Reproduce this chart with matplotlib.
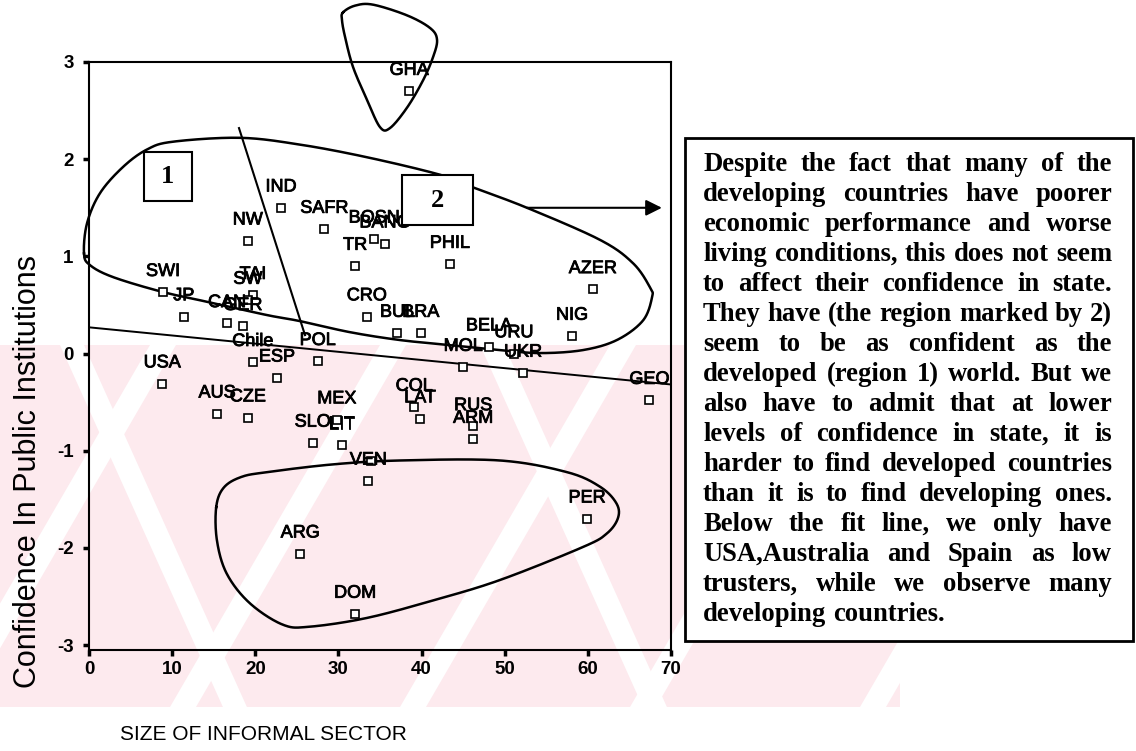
import numpy as np
import matplotlib
matplotlib.use("Agg")
import matplotlib.pyplot as plt
from matplotlib.patches import Rectangle, Polygon
import matplotlib.patheffects as pe

# ---------------- data ----------------
countries = ["GHA", "IND", "SAFR", "BOSN", "BANG", "TR", "PHIL", "AZER", "NIG",
             "CRO", "BUL", "BRA", "BELA", "URU", "MOL", "UKR", "GEO", "COL",
             "LAT", "RUS", "ARM", "MEX", "SLO", "LIT", "", "VEN", "PER", "ARG",
             "DOM", "USA", "AUS", "CZE", "ESP", "Chile", "POL", "SWI", "JP",
             "NW", "TAI", "SW", "CAN", "GER"]
informal = [38.5, 23.1, 28.3, 34.3, 35.6, 32.0, 43.4, 60.6, 58.1,
            33.4, 37.1, 39.9, 48.1, 51.1, 45.0, 52.2, 67.4, 39.1,
            39.8, 46.2, 46.2, 29.8, 26.9, 30.4, 33.9, 33.6, 59.9, 25.4,
            32.0, 8.8, 15.4, 19.1, 22.6, 19.7, 27.5, 8.9, 11.4,
            19.1, 19.7, 19.1, 16.6, 18.5]
confidence = [2.70, 1.50, 1.28, 1.18, 1.13, 0.90, 0.92, 0.66, 0.18,
              0.38, 0.21, 0.21, 0.07, 0.00, -0.14, -0.20, -0.48, -0.55,
              -0.67, -0.75, -0.88, -0.68, -0.92, -0.94, -1.11, -1.31, -1.70, -2.06,
              -2.68, -0.31, -0.62, -0.66, -0.25, -0.09, -0.08, 0.63, 0.38,
              1.16, 0.60, 0.55, 0.31, 0.28]

x_ticks = [0, 10, 20, 30, 40, 50, 60, 70]
y_ticks = [-3, -2, -1, 0, 1, 2, 3]
x_label = "SIZE OF INFORMAL SECTOR"
y_label = "Confidence In Public Institutions"
fit_intercept = 0.27
fit_slope = -0.0084

# hand-drawn annotation outlines (data coordinates)
loop1_x = [-0.60, -0.24, 1.32, 4.09, 6.98, 10.10, 18.16, 25.38, 33.44, 42.22, 46.19,
           52.68, 61.46, 65.43, 67.48, 67.72, 66.63, 63.51, 59.42, 54.25, 49.43,
           43.42, 37.41, 31.39, 25.38, 21.41, 14.91, 8.90, 2.89, 0.12]
loop1_y = [1.03, 1.34, 1.65, 1.92, 2.10, 2.18, 2.22, 2.15, 2.02, 1.84, 1.71,
           1.50, 1.17, 0.93, 0.68, 0.58, 0.34, 0.14, 0.036, 0.005, 0.036,
           0.087, 0.139, 0.22, 0.334, 0.396, 0.52, 0.633, 0.787, 0.91]
gha_x = [30.55, 32.0, 34.16, 38.25, 41.02, 41.86, 41.38, 40.17, 38.25, 36.20,
         35.00, 33.44, 31.75, 30.79, 30.43]
gha_y = [3.51, 3.58, 3.59, 3.48, 3.35, 3.23, 3.05, 2.81, 2.53, 2.32,
         2.33, 2.61, 2.95, 3.26, 3.43]
low_x = [15.30, 16.20, 18.30, 21.41, 29.35, 37.41, 49.43, 57.49, 61.46, 63.43,
         63.63, 62.30, 59.42, 49.43, 41.38, 33.44, 26.58, 23.33, 19.36, 16.60, 15.40]
low_y = [-1.58, -1.38, -1.27, -1.22, -1.14, -1.10, -1.10, -1.22, -1.37, -1.54,
         -1.69, -1.85, -1.99, -2.33, -2.54, -2.72, -2.81, -2.79, -2.57, -2.27, -1.93]
split_line_x = [18.04, 25.98]
split_line_y = [2.32, 0.19]
arrow_from = (52.7, 1.50)
arrow_to = (68.9, 1.50)

note_lines = [
    "Despite the fact that many of the",
    "developing countries have poorer",
    "economic performance and worse",
    "living conditions, this does not seem",
    "to affect their confidence in state.",
    "They have (the region marked by 2)",
    "seem to be as confident as the",
    "developed (region 1) world.  But we",
    "also have to admit that at lower",
    "levels of  confidence in state, it is",
    "harder to find developed countries",
    "than it is to find developing ones.",
    "Below the fit line, we only have",
    "USA,Australia and Spain as low",
    "trusters, while we observe many",
    "developing countries.",
]

# ---------------- figure ----------------
W, H = 1136, 751
fig = plt.figure(figsize=(W / 100, H / 100), dpi=100)


def fx(px):
    return px / W


def fy(py):
    return 1 - py / H


# faint pink watermark
wm = Rectangle((fx(0), fy(707)), fx(900), fy(345) - fy(707), transform=fig.transFigure,
               facecolor="#fdeaee", edgecolor="none", zorder=-10)
fig.add_artist(wm)
for xb in [-60, 170, 400, 630, 860]:
    w = 26
    dx = (707 - 345) * 0.58
    pts = [(fx(xb), fy(707)), (fx(xb + w), fy(707)), (fx(xb + w + dx), fy(345)), (fx(xb + dx), fy(345))]
    st = Polygon(pts, closed=True, transform=fig.transFigure, facecolor="white",
                 edgecolor="none", zorder=-9)
    fig.add_artist(st)
    st.set_clip_path(wm)
for xb in [60, 480]:
    w = 24
    dx = (707 - 345) * 0.45
    pts = [(fx(xb), fy(345)), (fx(xb + w), fy(345)), (fx(xb + w + dx), fy(707)), (fx(xb + dx), fy(707))]
    st = Polygon(pts, closed=True, transform=fig.transFigure, facecolor="white",
                 edgecolor="none", zorder=-9)
    fig.add_artist(st)
    st.set_clip_path(wm)

ax = fig.add_axes([fx(89), fy(650), fx(671) - fx(89), fy(62) - fy(650)])
ax.patch.set_alpha(0)
ax.set_xlim(0, 70)
ax.set_ylim(-3.05, 3.0)
for s in ax.spines.values():
    s.set_linewidth(1.5)
    s.set_color("black")
ax.set_xticks(x_ticks)
ax.set_yticks(y_ticks)
ax.set_xticklabels([str(t) for t in x_ticks], fontweight="bold", fontsize=13.5, family="Liberation Sans")
ax.set_yticklabels([str(t) for t in y_ticks], fontweight="bold", fontsize=13.5, family="Liberation Sans")
ax.tick_params(direction="out", length=4, width=2.5, pad=4)
ax.tick_params(axis="y", pad=7)

heavy = [pe.withStroke(linewidth=0.6, foreground="black")]

# points and labels
ax.plot(informal, confidence, linestyle="none", marker="s", markersize=6,
        markerfacecolor="white", markeredgecolor="black", markeredgewidth=1.2, zorder=3)
for name, xv, yv in zip(countries, informal, confidence):
    if name:
        ax.annotate(name, (xv, yv), xytext=(0, 15), textcoords="offset points",
                    ha="center", va="center", fontsize=13, family="Liberation Sans",
                    color="black", zorder=4, path_effects=heavy)

# fit line
xf = np.array([0, 70])
ax.plot(xf, fit_intercept + fit_slope * xf, color="black", lw=1.4, zorder=2)


def closed_spline(xs, ys, n=30):
    P = np.column_stack([xs, ys])
    N = len(P)
    t = np.linspace(0, 1, n, endpoint=False)[:, None]
    out = []
    for i in range(N):
        p0, p1, p2, p3 = P[(i - 1) % N], P[i], P[(i + 1) % N], P[(i + 2) % N]
        seg = 0.5 * (2 * p1 + (-p0 + p2) * t + (2 * p0 - 5 * p1 + 4 * p2 - p3) * t ** 2
                     + (-p0 + 3 * p1 - 3 * p2 + p3) * t ** 3)
        out.append(seg)
    out.append(P[:1])
    return np.vstack(out)


for lx, ly in [(loop1_x, loop1_y), (gha_x, gha_y), (low_x, low_y)]:
    c = closed_spline(lx, ly)
    ax.plot(c[:, 0], c[:, 1], color="black", lw=1.8, clip_on=False, zorder=2)

ax.plot(split_line_x, split_line_y, color="black", lw=1.5, zorder=2)
ax.annotate("", xy=arrow_to, xytext=arrow_from,
            arrowprops=dict(arrowstyle="-|>", mutation_scale=24, lw=1.5, color="black",
                            shrinkA=0, shrinkB=0), zorder=5)

# region boxes
for (x0, y0, w, h, lab) in [(6.6, 1.57, 5.8, 0.50, "1"), (37.6, 1.32, 8.6, 0.52, "2")]:
    ax.add_patch(Rectangle((x0, y0), w, h, facecolor="white", edgecolor="black", lw=1.5, zorder=6))
    ax.text(x0 + w / 2, y0 + h / 2, lab, ha="center", va="center", fontsize=19,
            fontweight="bold", family="Liberation Serif", zorder=7)

# axis titles
fig.text(fx(28), fy(471), y_label, rotation=90, ha="center", va="center",
         fontsize=22, family="Liberation Sans")
fig.text(fx(120), fy(735), x_label, ha="left", va="center", fontsize=15,
         family="Liberation Sans")

# text box
fig.add_artist(Rectangle((fx(685), fy(641)), fx(1133) - fx(685), fy(138) - fy(641),
                         transform=fig.transFigure, facecolor="white", edgecolor="black",
                         lw=2, zorder=1))
renderer = fig.canvas.get_renderer()
left_px, right_px = 703, 1112
base0, step = 171, 30.0

# choose font size so the widest line fills the column naturally
probe_fs = 16
probe_kw = dict(fontsize=probe_fs, fontweight="bold", family="Liberation Serif")
maxw = 0
for line in note_lines[:-1]:
    t = fig.text(0, 0, " ".join(line.split()), **probe_kw)
    maxw = max(maxw, t.get_window_extent(renderer).width)
    t.remove()
fs = probe_fs * (right_px - left_px) / maxw * 0.995

kw = dict(fontsize=fs, fontweight="bold", family="Liberation Serif", va="baseline",
          ha="left", zorder=2)
sp = fig.text(0, 0, "a a", **kw)
sa = fig.text(0, 0, "aa", **kw)
space_w = sp.get_window_extent(renderer).width - sa.get_window_extent(renderer).width
sp.remove()
sa.remove()
for i, line in enumerate(note_lines):
    ypx = base0 + i * step
    words = line.split()
    texts = [fig.text(0, fy(ypx), wd, **kw) for wd in words]
    widths = [t.get_window_extent(renderer).width for t in texts]
    if i == len(note_lines) - 1:
        gap = space_w
    else:
        gap = (right_px - left_px - sum(widths)) / max(len(words) - 1, 1)
    xpos = left_px
    for t, wdt in zip(texts, widths):
        t.set_x(fx(xpos))
        xpos += wdt + gap

fig.savefig("out.png", dpi=100)
